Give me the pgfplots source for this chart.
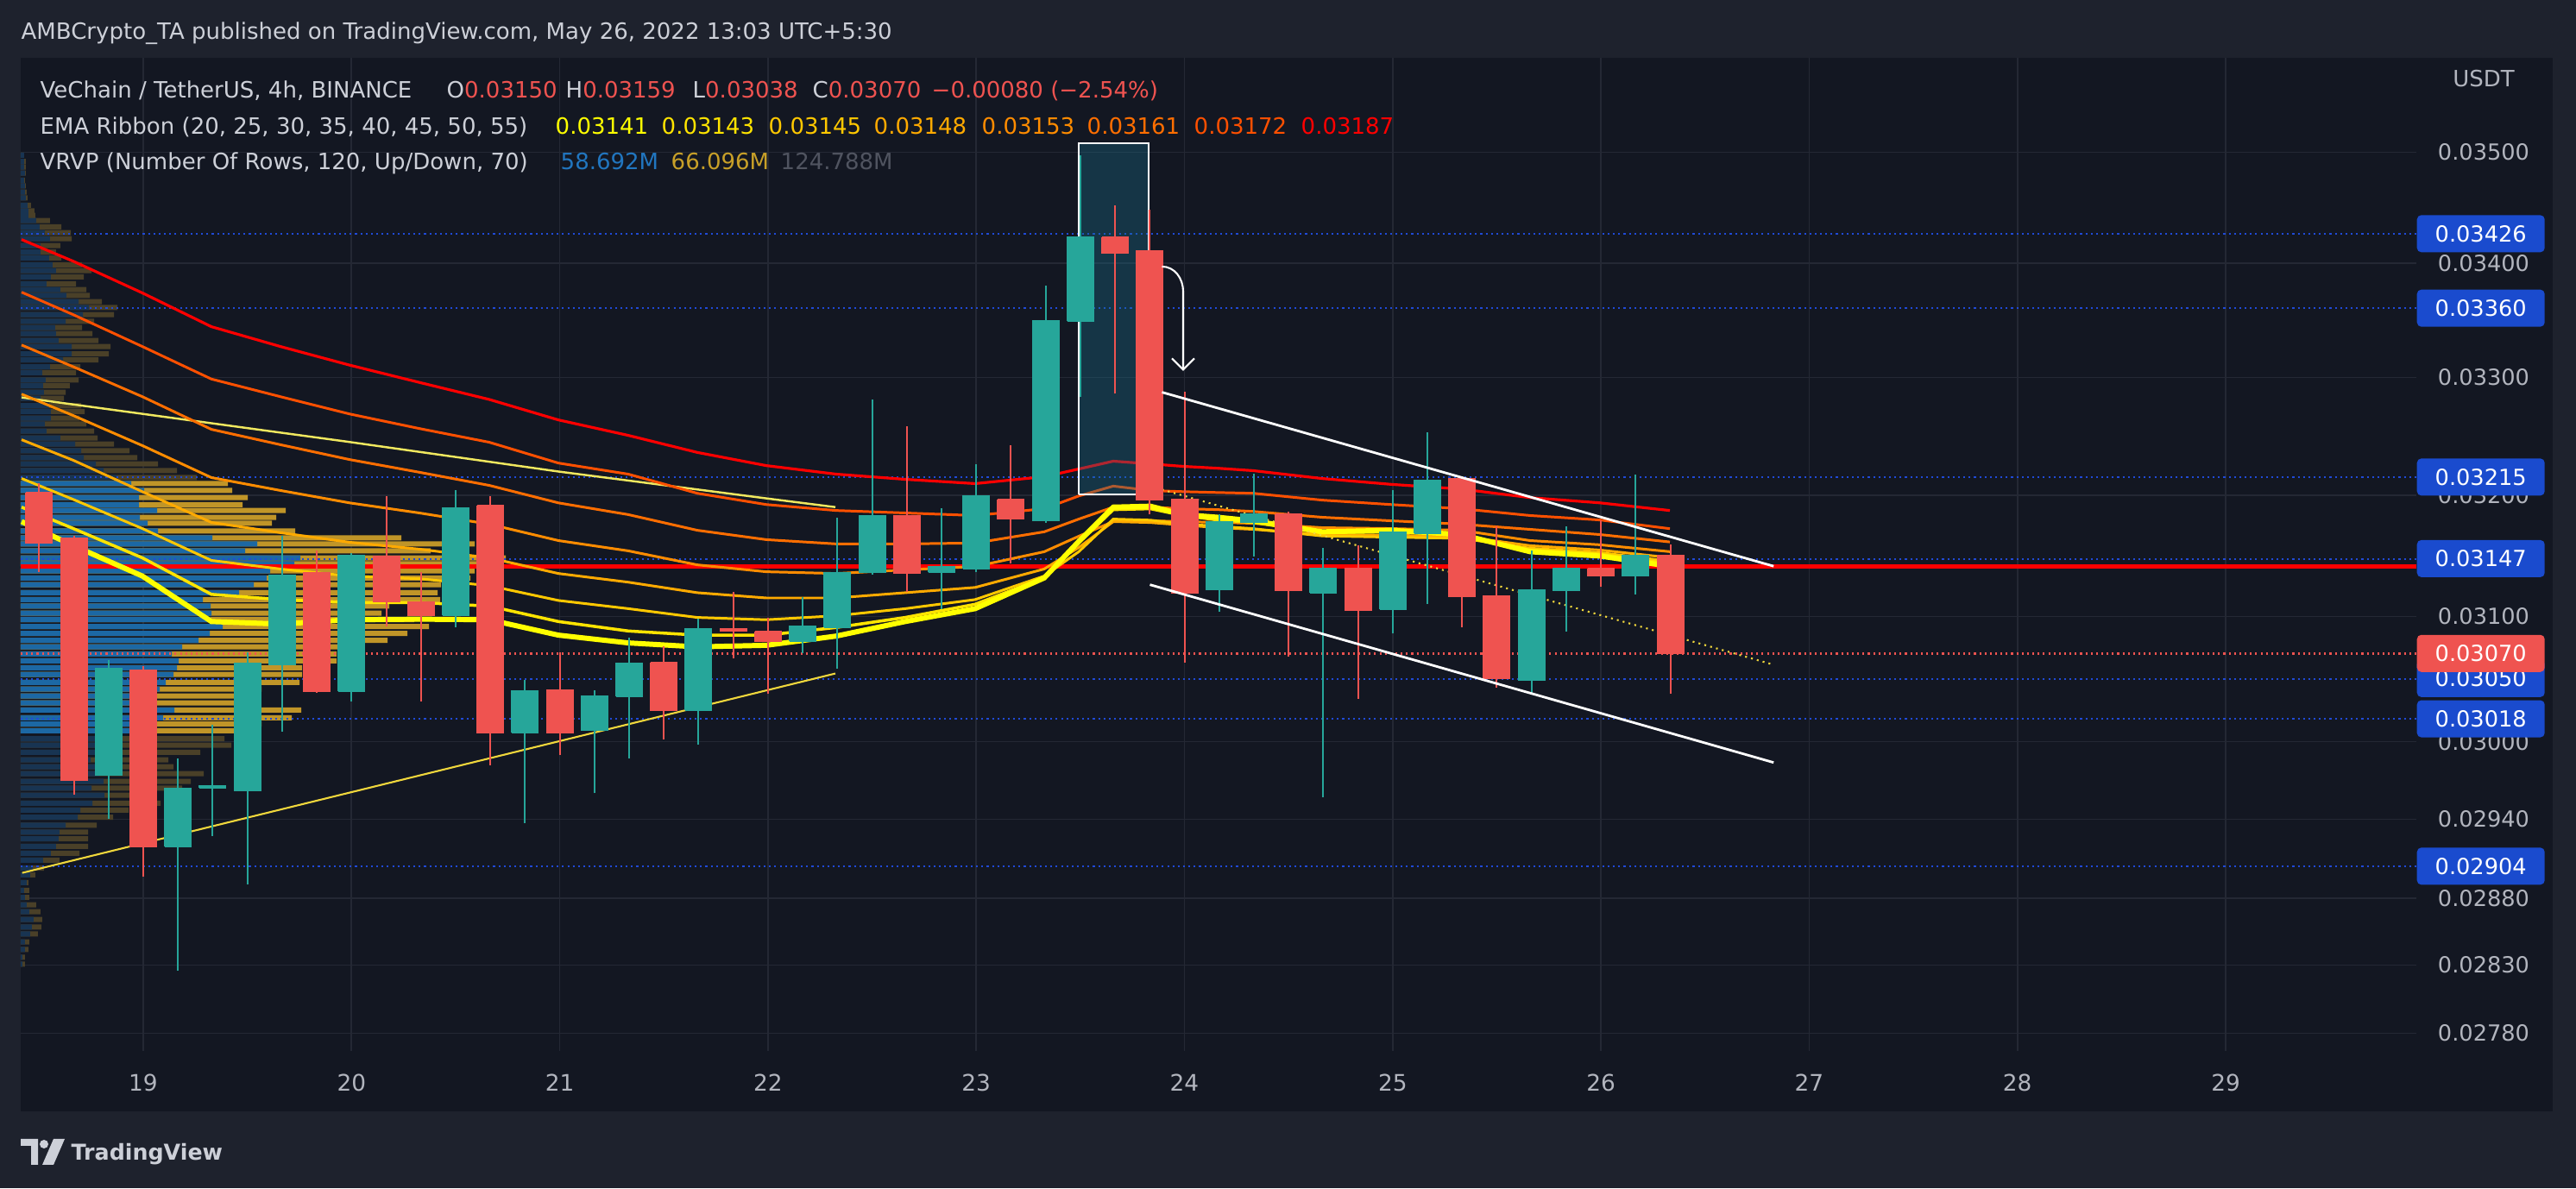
\documentclass[border=0pt]{standalone}
\usepackage{pgfplots}
\pgfplotsset{compat=1.18}
\usepackage{pgfplotstable}
\usepackage{fontspec}
\setmainfont{DejaVu Sans}
\usetikzlibrary{arrows.meta}

\definecolor{outer}{RGB}{30,34,45}
\definecolor{pane}{RGB}{19,23,34}
\definecolor{gridc}{RGB}{36,40,52}
\definecolor{txt}{RGB}{178,181,190}
\definecolor{txtl}{RGB}{205,208,216}
\definecolor{up}{RGB}{38,166,154}
\definecolor{dn}{RGB}{239,83,80}
\definecolor{lvl}{RGB}{32,74,215}
\definecolor{lvlbox}{RGB}{26,75,206}
\definecolor{vaBlue}{RGB}{28,104,164}
\definecolor{vaGold}{RGB}{192,149,40}
\definecolor{dimBlue}{RGB}{24,52,82}
\definecolor{dimGold}{RGB}{74,64,40}
\definecolor{emaA}{RGB}{255,255,0}
\definecolor{emaB}{RGB}{255,228,0}
\definecolor{emaC}{RGB}{255,200,0}
\definecolor{emaD}{RGB}{255,170,0}
\definecolor{emaE}{RGB}{255,140,0}
\definecolor{emaF}{RGB}{255,110,0}
\definecolor{emaG}{RGB}{255,80,0}
\definecolor{emaH}{RGB}{255,0,0}
\definecolor{paleY}{RGB}{240,232,95}
\definecolor{trendY}{RGB}{240,215,60}
\definecolor{boxfill}{RGB}{25,110,140}
\definecolor{vBlueTxt}{RGB}{33,118,192}
\definecolor{vGoldTxt}{RGB}{200,160,40}
\definecolor{vGrayTxt}{RGB}{80,84,96}

\newcommand\tvfont{\fontsize{7.4}{9}\selectfont}

% VET/USDT 4h candles: x = day of May 2022
\pgfplotstableread{
x o h l c u
18.5000 0.03202 0.03210 0.03136 0.03160 0
18.6667 0.03164 0.03166 0.02959 0.02970 0
18.8333 0.02974 0.03065 0.02940 0.03058 1
19.0000 0.03057 0.03060 0.02896 0.02919 0
19.1667 0.02919 0.02987 0.02826 0.02964 1
19.3333 0.02964 0.03013 0.02927 0.02966 1
19.5000 0.02962 0.03071 0.02890 0.03062 1
19.6667 0.03061 0.03166 0.03008 0.03134 1
19.8333 0.03136 0.03154 0.03039 0.03040 0
20.0000 0.03040 0.03152 0.03032 0.03150 1
20.1667 0.03149 0.03199 0.03092 0.03112 0
20.3333 0.03112 0.03136 0.03032 0.03101 0
20.5000 0.03101 0.03204 0.03091 0.03189 1
20.6667 0.03191 0.03199 0.02982 0.03007 0
20.8333 0.03007 0.03049 0.02937 0.03040 1
21.0000 0.03041 0.03071 0.02990 0.03007 0
21.1667 0.03009 0.03041 0.02960 0.03036 1
21.3333 0.03036 0.03083 0.02987 0.03062 1
21.5000 0.03063 0.03076 0.03002 0.03025 0
21.6667 0.03025 0.03098 0.02998 0.03090 1
21.8333 0.03090 0.03120 0.03066 0.03088 0
22.0000 0.03088 0.03099 0.03038 0.03080 0
22.1667 0.03080 0.03116 0.03070 0.03092 1
22.3333 0.03091 0.03181 0.03058 0.03136 1
22.5000 0.03136 0.03281 0.03134 0.03183 1
22.6667 0.03183 0.03258 0.03120 0.03135 0
22.8333 0.03136 0.03189 0.03106 0.03141 1
23.0000 0.03139 0.03226 0.03136 0.03199 1
23.1667 0.03196 0.03242 0.03143 0.03180 0
23.3333 0.03179 0.03380 0.03177 0.03349 1
23.5000 0.03349 0.03497 0.03283 0.03423 1
23.6667 0.03423 0.03452 0.03286 0.03409 0
23.8333 0.03411 0.03448 0.03184 0.03196 0
24.0000 0.03196 0.03288 0.03063 0.03119 0
24.1667 0.03122 0.03184 0.03104 0.03178 1
24.3333 0.03177 0.03218 0.03149 0.03184 1
24.5000 0.03184 0.03186 0.03068 0.03121 0
24.6667 0.03119 0.03156 0.02957 0.03139 1
24.8333 0.03139 0.03158 0.03034 0.03105 0
25.0000 0.03106 0.03204 0.03086 0.03169 1
25.1667 0.03168 0.03253 0.03110 0.03212 1
25.3333 0.03214 0.03215 0.03091 0.03116 0
25.5000 0.03117 0.03174 0.03043 0.03050 0
25.6667 0.03049 0.03154 0.03038 0.03122 1
25.8333 0.03121 0.03174 0.03088 0.03139 1
26.0000 0.03139 0.03179 0.03124 0.03133 0
26.1667 0.03133 0.03217 0.03118 0.03150 1
26.3333 0.03150 0.03159 0.03038 0.03070 0
}\candles

% EMA ribbon (20..55)
\pgfplotstableread{
x e20 e25 e30 e35 e40 e45 e50 e55
18.4157 0.031779 0.031900 0.032139 0.032467 0.032854 0.033280 0.033742 0.034210
18.6644 0.031579 0.031721 0.031964 0.032292 0.032672 0.033091 0.033545 0.034016
18.9959 0.031329 0.031479 0.031721 0.032029 0.032416 0.032832 0.033265 0.033735
19.3274 0.030959 0.031179 0.031457 0.031771 0.032146 0.032555 0.032985 0.033439
19.6590 0.030938 0.031136 0.031386 0.031686 0.032037 0.032423 0.032832 0.033265
19.9905 0.030973 0.031114 0.031329 0.031607 0.031936 0.032299 0.032686 0.033106
20.3262 0.030979 0.031114 0.031307 0.031550 0.031850 0.032190 0.032562 0.032956
20.6619 0.030973 0.031086 0.031250 0.031479 0.031757 0.032080 0.032445 0.032810
20.9934 0.030849 0.030959 0.031129 0.031350 0.031621 0.031936 0.032270 0.032635
21.3291 0.030787 0.030883 0.031064 0.031279 0.031536 0.031836 0.032175 0.032504
21.6606 0.030753 0.030849 0.030993 0.031193 0.031421 0.031707 0.032015 0.032358
21.9921 0.030767 0.030849 0.030973 0.031150 0.031364 0.031629 0.031921 0.032248
22.3278 0.030842 0.030911 0.031007 0.031150 0.031350 0.031593 0.031871 0.032175
22.6594 0.030959 0.030993 0.031064 0.031193 0.031379 0.031593 0.031850 0.032131
22.9950 0.031064 0.031100 0.031136 0.031236 0.031407 0.031600 0.031829 0.032095
23.3266 0.031314 0.031314 0.031329 0.031386 0.031529 0.031693 0.031886 0.032153
23.4924 0.031614 0.031600 0.031529 0.031564 0.031657 0.031800 0.031993 0.032219
23.6581 0.031900 0.031879 0.031800 0.031780 0.031779 0.031900 0.032073 0.032285
23.8363 0.031907 0.031886 0.031790 0.031770 0.031786 0.031900 0.032037 0.032263
23.9938 0.031836 0.031829 0.031760 0.031750 0.031779 0.031886 0.032029 0.032241
24.1595 0.031814 0.031793 0.031740 0.031729 0.031771 0.031879 0.032022 0.032226
24.3295 0.031786 0.031771 0.031720 0.031714 0.031764 0.031864 0.032015 0.032204
24.6610 0.031693 0.031686 0.031660 0.031671 0.031729 0.031814 0.031957 0.032138
24.9926 0.031707 0.031693 0.031650 0.031664 0.031721 0.031786 0.031921 0.032088
25.3282 0.031671 0.031671 0.031640 0.031657 0.031707 0.031757 0.031886 0.032051
25.6598 0.031529 0.031543 0.031557 0.031579 0.031621 0.031714 0.031829 0.031979
25.9954 0.031493 0.031507 0.031521 0.031543 0.031586 0.031671 0.031793 0.031936
26.3311 0.03141 0.03143 0.03145 0.03148 0.03153 0.03161 0.03172 0.03187
}\ema

% VRVP rows outside the value area: price, up volume, total volume (chart units)
\pgfplotstableread{
p up tot
0.034973 4 4
0.034918 4 6
0.034864 4 6
0.034809 5 6
0.034747 4 5
0.034693 5 6
0.034638 5 7
0.034584 6 8
0.034521 8 12
0.034467 9 16
0.034428 9 17
0.034381 18 34
0.034327 22 47
0.034272 28 58
0.034218 34 59
0.034156 23 46
0.034101 23 41
0.034047 33 47
0.033985 37 71
0.033932 41 82
0.033879 35 73
0.033818 30 64
0.033765 46 76
0.033712 53 80
0.033659 67 94
0.033606 79 112
0.033545 72 108
0.033485 52 85
0.033432 40 71
0.033379 41 83
0.033318 44 90
0.033265 59 104
0.033205 59 102
0.033151 49 90
0.033091 34 69
0.033038 25 64
0.032978 29 67
0.032927 26 57
0.032869 27 52
0.032818 23 50
0.032759 33 70
0.032708 35 74
0.032650 35 68
0.032599 28 76
0.032540 30 85
0.032482 46 89
0.032431 63 108
0.032372 70 126
0.032314 73 135
0.032263 87 159
0.032204 96 181
0.032146 111 204
0.030025 116 236
0.029973 101 244
0.029919 91 208
0.029859 81 171
0.029805 86 177
0.029752 91 212
0.029691 96 197
0.029638 82 187
0.029584 97 149
0.029524 83 162
0.029470 69 125
0.029416 66 107
0.029354 52 88
0.029302 45 78
0.029250 44 78
0.029191 41 78
0.029139 35 68
0.029086 26 45
0.029027 14 27
0.028975 11 17
0.028916 7 9
0.028858 4 10
0.028805 5 10
0.028749 7 18
0.028697 10 23
0.028640 15 25
0.028582 13 24
0.028531 11 20
0.028473 5 10
0.028415 5 9
0.028358 2 5
0.028306 2 5
}\vrvpdim

% VRVP value area rows
\pgfplotstableread{
p up tot
0.032095 128 240
0.032037 143 245
0.031979 137 263
0.031921 137 257
0.031871 158 307
0.031814 138 296
0.031764 147 291
0.031700 159 318
0.031643 222 441
0.031593 274 526
0.031536 260 475
0.031479 324 562
0.031429 317 536
0.031371 289 526
0.031314 285 521
0.031257 270 487
0.031193 253 483
0.031136 211 486
0.031086 220 427
0.031029 221 418
0.030973 220 456
0.030918 234 473
0.030863 219 448
0.030808 206 425
0.030753 187 396
0.030698 175 366
0.030643 183 366
0.030588 181 326
0.030533 177 326
0.030472 168 323
0.030417 161 279
0.030362 156 278
0.030307 156 278
0.030252 178 325
0.030190 165 314
0.030142 146 279
0.030087 136 266
}\vrvpva

\begin{document}
\begin{tikzpicture}
\fill[outer] (0,0) rectangle (29.85,13.77);
\fill[pane] (0.24,0.89) rectangle (29.58,13.10);

\begin{axis}[
 at={(0.24cm,1.59cm)}, anchor=south west,
 scale only axis, width=27.76cm, height=11.51cm,
 xmin=18.4116, xmax=29.9159,
 ymode=log, ymin=0.0276703, ymax=0.0358755,
 clip mode=individual,
 axis line style={draw=none},
 major tick length=0pt,
 xmajorgrids, ymajorgrids,
 grid style={gridc, line width=0.45pt},
 xtick={19,20,21,22,23,24,25,26,27,28,29},
 xticklabels={19,20,21,22,23,24,25,26,27,28,29},
 xticklabel style={anchor=center, yshift=-0.37cm, text=txt, font=\fontsize{7.5}{9}\selectfont},
 ytick={0.0278,0.0283,0.0288,0.0294,0.03,0.031,0.032,0.033,0.034,0.035},
 yticklabels={0.02780,0.02830,0.02880,0.02940,0.03000,0.03100,0.03200,0.03300,0.03400,0.03500},
 yticklabel pos=right,
 yticklabel style={anchor=center, xshift=0.78cm, text=txt, font=\fontsize{7.3}{9}\selectfont},
 lvlline/.style={lvl, line width=0.6pt, dash pattern=on 0.6pt off 1.15pt},
]
% volume profile
\addplot[xbar, bar shift=0pt, bar width=0.06cm, fill=dimGold, draw=none]
  table[x expr=18.4116+0.0041442*\thisrow{tot}, y=p]{\vrvpdim};
\addplot[xbar, bar shift=0pt, bar width=0.06cm, fill=dimBlue, draw=none]
  table[x expr=18.4116+0.0041442*\thisrow{up}, y=p]{\vrvpdim};
\addplot[xbar, bar shift=0pt, bar width=0.06cm, fill=vaGold, draw=none]
  table[x expr=18.4116+0.0041442*\thisrow{tot}, y=p]{\vrvpva};
\addplot[xbar, bar shift=0pt, bar width=0.06cm, fill=vaBlue, draw=none]
  table[x expr=18.4116+0.0041442*\thisrow{up}, y=p]{\vrvpva};

% horizontal levels
\addplot[lvlline] coordinates {(18.4116,0.03426) (29.9159,0.03426)};
\addplot[lvlline] coordinates {(18.4116,0.03360) (29.9159,0.03360)};
\addplot[lvlline] coordinates {(18.4116,0.03215) (29.9159,0.03215)};
\addplot[lvlline] coordinates {(18.4116,0.03147) (29.9159,0.03147)};
\addplot[lvlline] coordinates {(18.4116,0.03050) (29.9159,0.03050)};
\addplot[lvlline] coordinates {(18.4116,0.03018) (29.9159,0.03018)};
\addplot[lvlline] coordinates {(18.4116,0.02904) (29.9159,0.02904)};
\addplot[dn, line width=0.6pt, dash pattern=on 0.6pt off 1.15pt] coordinates {(18.4116,0.03070) (29.9159,0.03070)};
\addplot[red, line width=1.5pt] coordinates {(18.4116,0.03141) (29.9159,0.03141)};

% drawn lines
\addplot[paleY, line width=0.7pt] coordinates {(18.4157,0.032825) (19.9698,0.032453) (20.9934,0.032197) (22.0004,0.031971) (22.3238,0.031900)};
\addplot[trendY, line width=0.6pt] coordinates {(18.4186,0.028990) (22.3237,0.030540)};

% EMA ribbon
\addplot[emaH, line width=0.9pt] table[x=x, y=e55]{\ema};
\addplot[emaG, line width=0.85pt] table[x=x, y=e50]{\ema};
\addplot[emaF, line width=0.85pt] table[x=x, y=e45]{\ema};
\addplot[emaE, line width=0.85pt] table[x=x, y=e40]{\ema};
\addplot[emaD, line width=0.85pt] table[x=x, y=e35]{\ema};
\addplot[emaC, line width=0.85pt] table[x=x, y=e30]{\ema};
\addplot[emaB, line width=1.0pt] table[x=x, y=e25]{\ema};
\addplot[emaA, line width=1.7pt] table[x=x, y=e20]{\ema};

% highlighted box around the top
\addplot[fill=boxfill, fill opacity=0.35, draw=white, line width=0.6pt]
  coordinates {(23.4924,0.032007) (23.8280,0.032007) (23.8280,0.035083) (23.4924,0.035083) (23.4924,0.032007)};

% dotted yellow line
\addplot[trendY, line width=0.6pt, dash pattern=on 0.6pt off 1.4pt] coordinates {(23.8923,0.032044) (26.8285,0.030612)};

% candles
\pgfplotstablegetrowsof{\candles}
\pgfmathtruncatemacro{\lastrow}{\pgfplotsretval-1}
\pgfplotsforeachungrouped \i in {0,...,\lastrow}{%
  \pgfplotstablegetelem{\i}{x}\of\candles \let\cx\pgfplotsretval
  \pgfplotstablegetelem{\i}{o}\of\candles \let\co\pgfplotsretval
  \pgfplotstablegetelem{\i}{h}\of\candles \let\ch\pgfplotsretval
  \pgfplotstablegetelem{\i}{l}\of\candles \let\cl\pgfplotsretval
  \pgfplotstablegetelem{\i}{c}\of\candles \let\cc\pgfplotsretval
  \pgfplotstablegetelem{\i}{u}\of\candles \let\cu\pgfplotsretval
  \pgfmathsetmacro{\xa}{\cx-0.0634}%
  \pgfmathsetmacro{\xb}{\cx+0.0634}%
  \ifnum\cu=1 \def\ccol{up}\else\def\ccol{dn}\fi
  \edef\temp{%
    \noexpand\addplot[draw=\ccol, line width=0.57pt] coordinates {(\cx,\cl) (\cx,\ch)};
    \noexpand\addplot[fill=\ccol, draw=\ccol, line width=0.4pt] coordinates {(\xa,\co) (\xb,\co) (\xb,\cc) (\xa,\cc) (\xa,\co)};
  }\temp
}

% channel
\addplot[white, line width=0.8pt] coordinates {(23.8923,0.032872) (26.8293,0.031411)};
\addplot[white, line width=0.8pt] coordinates {(23.8343,0.031257) (26.8293,0.029838)};
\draw[white, line width=0.6pt, -{Straight Barb[length=0.13cm, width=0.26cm]}]
  (axis cs:23.8922,0.033968) to[out=0, in=90] (axis cs:23.9938,0.03375) -- (axis cs:23.9938,0.033056);

\coordinate (bA) at (axis cs:29.9159,0.03426);
\coordinate (bB) at (axis cs:29.9159,0.03360);
\coordinate (bC) at (axis cs:29.9159,0.03215);
\coordinate (bD) at (axis cs:29.9159,0.03147);
\coordinate (bE) at (axis cs:29.9159,0.03070);
\coordinate (bF) at (axis cs:29.9159,0.03050);
\coordinate (bG) at (axis cs:29.9159,0.03018);
\coordinate (bH) at (axis cs:29.9159,0.02904);
\end{axis}

\tikzset{pbox/.style={anchor=west, text=white, minimum width=1.48cm, minimum height=0.43cm,
  inner sep=0pt, rounded corners=0.05cm, font=\fontsize{7.3}{9}\selectfont}}
\node[pbox, fill=lvlbox] at (bA) {0.03426};
\node[pbox, fill=lvlbox] at (bB) {0.03360};
\node[pbox, fill=lvlbox] at (bC) {0.03215};
\node[pbox, fill=lvlbox] at (bD) {0.03147};
\node[pbox, fill=lvlbox] at (bF) {0.03050};
\node[pbox, fill=lvlbox] at (bG) {0.03018};
\node[pbox, fill=dn] at (bE) {0.03070};
\node[pbox, fill=lvlbox] at (bH) {0.02904};

\node[text=txt, font=\tvfont] at (28.78,12.86) {USDT};

% header
\node[anchor=base west, inner sep=0pt, text=txtl, font=\tvfont] at (0.24,13.31)
  {AMBCrypto\_TA published on TradingView.com, May 26, 2022 13:03 UTC+5:30};
\begin{scope}[every node/.style={anchor=base west, inner sep=0pt, font=\tvfont}]
\node[text=txtl] at (0.46,12.63) {VeChain / TetherUS, 4h, BINANCE};
\node at (5.17,12.63) {\textcolor{txtl}{O}\textcolor{dn}{0.03150}};
\node at (6.55,12.63) {\textcolor{txtl}{H}\textcolor{dn}{0.03159}};
\node at (8.02,12.63) {\textcolor{txtl}{L}\textcolor{dn}{0.03038}};
\node at (9.41,12.63) {\textcolor{txtl}{C}\textcolor{dn}{0.03070}};
\node[text=dn] at (10.79,12.63) {−0.00080 (−2.54\%)};
\node[text=txtl] at (0.46,12.21) {EMA Ribbon (20, 25, 30, 35, 40, 45, 50, 55)};
\node[text=emaA] at (6.43,12.21) {0.03141};
\node[text=emaB] at (7.66,12.21) {0.03143};
\node[text=emaC] at (8.90,12.21) {0.03145};
\node[text=emaD] at (10.12,12.21) {0.03148};
\node[text=emaE] at (11.37,12.21) {0.03153};
\node[text=emaF] at (12.59,12.21) {0.03161};
\node[text=emaG] at (13.83,12.21) {0.03172};
\node[text=emaH] at (15.07,12.21) {0.03187};
\node[text=txtl] at (0.46,11.80) {VRVP (Number Of Rows, 120, Up/Down, 70)};
\node[text=vBlueTxt] at (6.49,11.80) {58.692M};
\node[text=vGoldTxt] at (7.77,11.80) {66.096M};
\node[text=vGrayTxt] at (9.04,11.80) {124.788M};
\end{scope}

% footer logo
\fill[txtl] (0.24,0.57) -- (0.44,0.57) -- (0.44,0.27) -- (0.36,0.27) -- (0.36,0.49) -- (0.24,0.49) -- cycle;
\fill[txtl] (0.51,0.51) circle (0.05);
\fill[txtl] (0.62,0.57) -- (0.75,0.57) -- (0.62,0.27) -- (0.49,0.27) -- cycle;
\node[anchor=base west, inner sep=0pt, text=txtl, font=\fontsize{7.2}{9}\selectfont\bfseries] at (0.82,0.33) {TradingView};

\pgfresetboundingbox
\path[use as bounding box] (0,0) rectangle (29.85,13.77);
\end{tikzpicture}
\end{document}
